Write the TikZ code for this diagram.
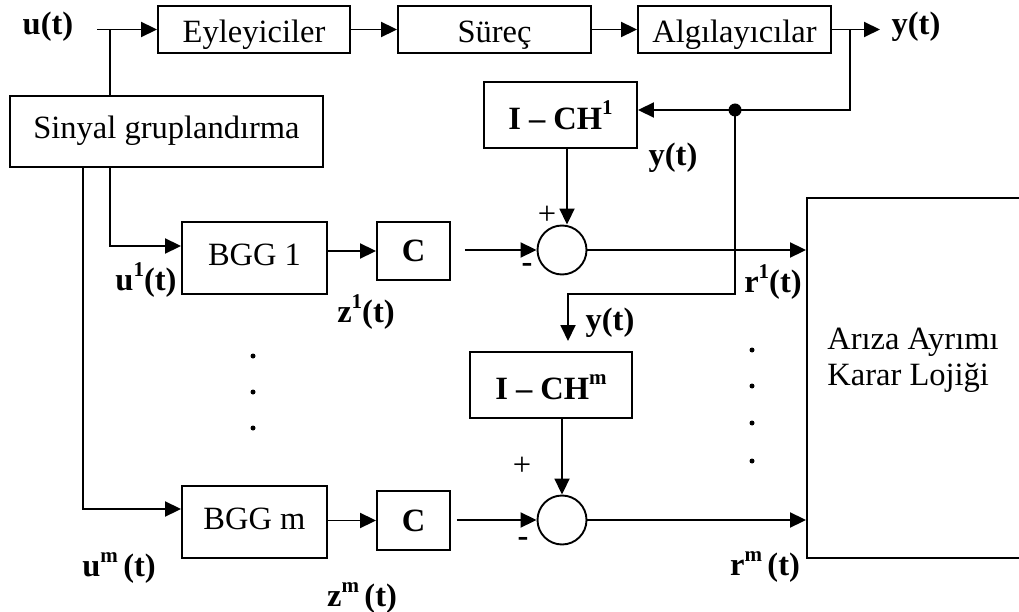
\documentclass[tikz,border=0pt]{standalone}
\usepackage{fontspec}
\setmainfont{Liberation Serif}
\usetikzlibrary{arrows.meta}
\newcommand\sups[1]{\raisebox{0.45em}{\fontsize{21}{21}\selectfont\bfseries #1}}

\begin{document}
\begin{tikzpicture}[x=1pt,y=-1pt,>={Triangle[length=16pt,width=15pt]},line width=1.9pt,
  font=\fontsize{32.5}{36}\selectfont,
  blok/.style={draw,inner sep=0pt,text height=22pt,text depth=7pt},
  lowtext/.style={text height=28pt,text depth=1pt},
  boldblok/.style={blok,font=\fontsize{32.5}{36}\selectfont\bfseries},
  lbl/.style={inner sep=0pt,font=\fontsize{32.5}{36}\selectfont\bfseries},
  sum/.style={draw,circle,minimum size=49pt,inner sep=0pt}]
 \useasboundingbox (0,0) rectangle (1019,612);
 % top row
 \node[blok,lowtext,minimum width=192pt,minimum height=47pt] (eyl) at (254,29.5) {Eyleyiciler};
 \node[blok,lowtext,minimum width=193pt,minimum height=47pt] (sur) at (494.5,29.5) {Süreç};
 \node[blok,lowtext,minimum width=193pt,minimum height=47pt] (alg) at (734.5,29.5) {Algılayıcılar};
 \node[lbl] (ut) at (48,27) {u(t)};
 \node[lbl] (yt) at (916,27) {y(t)};
 \coordinate (uin) at (97,29.5);
 \coordinate (utap) at (110,29.5);
 \coordinate (yout) at (880,29.5);
 \coordinate (ytap) at (850,29.5);
 \draw[->] (uin) -- (eyl.west);
 \draw[->] (eyl) -- (sur);
 \draw[->] (sur) -- (alg);
 \draw[->] (alg.east) -- (yout);
 % grouping and generators
 \node[blok,minimum width=313pt,minimum height=71pt] (sg) at (166.5,131.5) {Sinyal gruplandırma};
 \node[blok,minimum width=145pt,minimum height=72pt] (bgg1) at (254.5,258) {BGG 1};
 \node[blok,minimum width=145pt,minimum height=72pt] (bggm) at (254.5,522) {BGG m};
 \node[boldblok,text height=25pt,text depth=4pt,minimum width=73pt,minimum height=58pt] (c1) at (413.5,251) {C};
 \node[boldblok,text height=25pt,text depth=4pt,minimum width=73pt,minimum height=59pt] (cm) at (413.5,520.5) {C};
 \draw (utap) -- (utap |- sg.north);
 \draw[->] ([xshift=-56.5pt]sg.south) |- ([yshift=12pt]bgg1.west);
 \draw[->] ([xshift=-83.5pt]sg.south) |- ([yshift=13pt]bggm.west);
 \draw[->] (c1.west -| bgg1.east) -- (c1.west);
 \draw[->] (cm.west -| bggm.east) -- (cm.west);
 % residual generation
 \node[boldblok,text height=29pt,text depth=0pt,minimum width=153pt,minimum height=66pt] (ich1) at (560.5,115) {I – CH\sups{1}};
 \node[boldblok,text height=29pt,text depth=0pt,minimum width=162pt,minimum height=66pt] (ichm) at (551,385) {I – CH\sups{m}};
 \node[sum] (s1) at (562,250) {};
 \node[sum] (sm) at (562,520) {};
 \node[circle,fill,inner sep=0pt,minimum size=13pt] (jn) at (735,110) {};
 \coordinate (ybend) at (735,294);
 \coordinate (ya) at (568,341);
 \draw[->] (ytap) |- ([yshift=5pt]ich1.east);
 \draw[->] (jn.center) -- (ybend) -| (ya);
 \draw[->] ([xshift=5pt]s1.north |- ich1.south) -- ([xshift=5pt]s1.north);
 \draw[->] (ichm.south -| sm.north) -- (sm.north);
 \draw[->] ([xshift=14pt]s1.west -| c1.east) -- (s1.west);
 \draw[->] ([xshift=6pt]sm.west -| cm.east) -- (sm.west);
 \node (p1) at (547,215) {+};
 \node (n1) at (527,268) {\textbf{-}};
 \node (pm) at (522,466) {+};
 \node (nm) at (523,542) {\textbf{-}};
 % decision logic
 \node[blok,minimum width=260pt,minimum height=360pt] (fdl) at (937,378) {};
 \node[align=left,inner sep=0pt] (fdlt) at (913,360) {Arıza Ayrımı\\Karar Lojiği};
 \draw[->] (s1.east) -- (s1.east -| fdl.west);
 \draw[->] (sm.east) -- (sm.east -| fdl.west);
 % signal labels
 \node[lbl] (u1) at (146,280) {u\sups{1}(t)};
 \node[lbl] (z1) at (366,312) {z\sups{1}(t)};
 \node[lbl] (um) at (119,568) {u\sups{m}\,(t)};
 \node[lbl] (zm) at (362,598) {z\sups{m}\,(t)};
 \node[lbl] (y1) at (673,158) {y(t)};
 \node[lbl] (y2) at (610,323) {y(t)};
 \node[lbl] (r1) at (773,282) {r\sups{1}(t)};
 \node[lbl] (rm) at (765,567) {r\sups{m}\,(t)};
 % dots
 \foreach \y in {356,392,428}
   {\fill (253,\y) circle (2.5pt);}
 \foreach \y in {350,386,423,461}
   {\fill (752,\y) circle (2.5pt);}
\end{tikzpicture}
\end{document}
